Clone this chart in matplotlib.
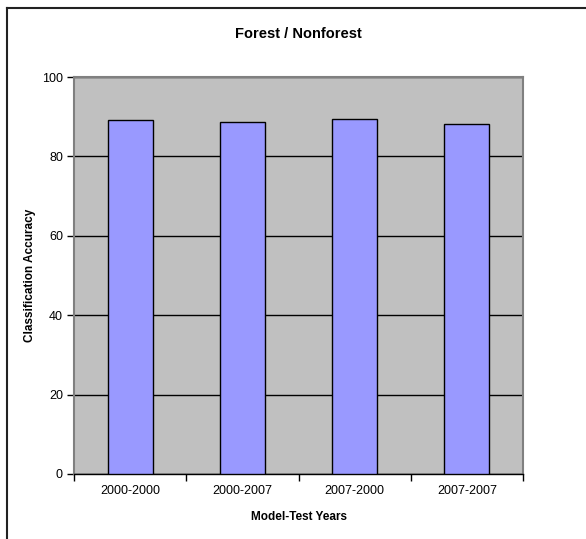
import matplotlib.pyplot as plt
from matplotlib.lines import Line2D

plt.rcParams['font.family'] = ['Liberation Sans', 'DejaVu Sans']

# Classification accuracy per model/test year pair
years = ["2000-2000", "2000-2007", "2007-2000", "2007-2007"]
accuracy = [89.2, 88.7, 89.4, 88.1]

fig = plt.figure(figsize=(5.86, 5.39), dpi=100)
ax = fig.add_axes([0.1263, 0.1206, 0.7662, 0.7365])

ax.set_facecolor('#C0C0C0')
x = range(len(years))
ax.bar(x, accuracy, width=0.4, color='#9999FF', edgecolor='black', linewidth=1, zorder=3)

ax.set_xlim(-0.5, len(years) - 0.5)
ax.set_ylim(0, 100)
ax.set_yticks(range(0, 101, 20))
ax.yaxis.grid(True, color='black', linewidth=1, zorder=1)
ax.set_axisbelow(True)

# category labels centred, tick marks on the boundaries
ax.set_xticks(list(x))
ax.set_xticklabels(years, fontsize=9)
ax.set_xticks([i - 0.5 for i in range(len(years) + 1)], minor=True)
ax.tick_params(axis='x', which='major', length=0, pad=8)
ax.tick_params(axis='x', which='minor', length=5, width=1, color='black', direction='out')
ax.tick_params(axis='y', length=5, width=1, labelsize=9, pad=3)

for side in ['top', 'right']:
    ax.spines[side].set_color('#808080')
    ax.spines[side].set_linewidth(1.5)
ax.spines['left'].set_color('#808080')
ax.spines['left'].set_linewidth(1.5)
ax.spines['bottom'].set_color('black')
ax.spines['bottom'].set_linewidth(1)

ax.set_title("Forest / Nonforest", fontsize=10.5, fontweight='bold', pad=28)
ax.set_xlabel("Model-Test Years", fontsize=8.5, fontweight='bold', labelpad=10)
ax.set_ylabel("Classification Accuracy", fontsize=8.5, fontweight='bold', labelpad=4)

# chart frame (left and top edges)
fig.add_artist(Line2D([7 / 586, 7 / 586], [0, 1 - 7.5 / 539], transform=fig.transFigure,
                      color='#222222', linewidth=1.5))
fig.add_artist(Line2D([7 / 586, 1], [1 - 7.5 / 539, 1 - 7.5 / 539], transform=fig.transFigure,
                      color='#222222', linewidth=1.5))

fig.savefig("out.png", dpi=100)
